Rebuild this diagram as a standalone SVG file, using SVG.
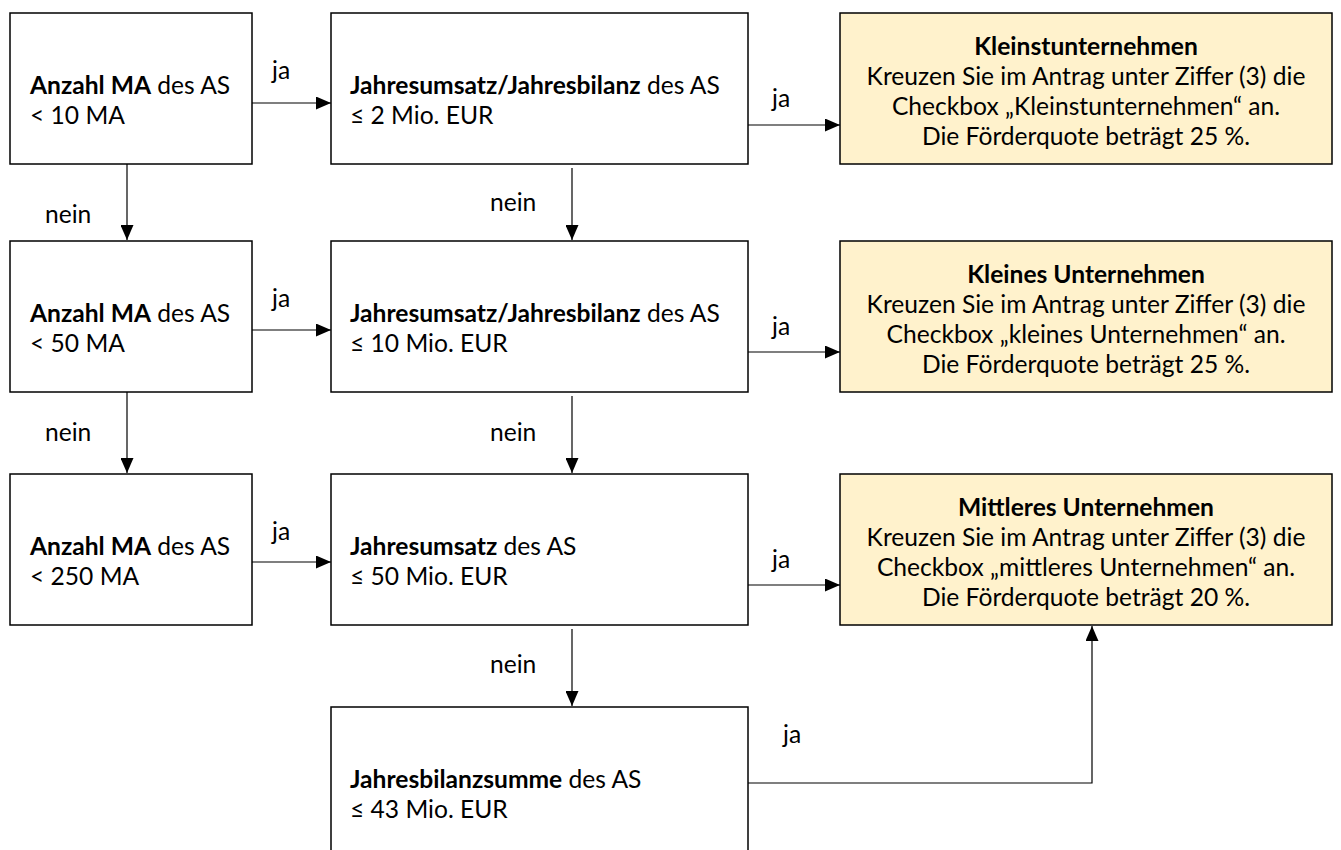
<svg xmlns="http://www.w3.org/2000/svg" width="1341" height="850" viewBox="0 0 1341 850">
<defs>
<marker id="ah" viewBox="0 0 15 13" refX="15" refY="6.5" markerWidth="15" markerHeight="13" markerUnits="userSpaceOnUse" orient="auto">
<path d="M0,0 L15,6.5 L0,13 Z" fill="#000"/>
</marker>
</defs>
<style>
text{font-family:Lato,"Open Sans","Liberation Sans",sans-serif;font-size:24.6px;fill:#000}
.b{font-weight:bold}
.box{fill:#fff;stroke:#000;stroke-width:1.5}
.res{fill:#FFF2CC;stroke:#000;stroke-width:1.5}
.c{text-anchor:middle}
.con line,.con polyline{stroke:#000;stroke-width:1.2;fill:none;marker-end:url(#ah)}
</style>
<rect width="1341" height="850" fill="#fff"/>

<g id="a1"><rect class="box" x="10" y="13" width="242" height="151"/>
<text x="30" y="94"><tspan class="b">Anzahl MA</tspan> des AS</text><text x="30" y="124">&lt; 10 MA</text></g>
<g id="a2"><rect class="box" x="10" y="241" width="242" height="151"/>
<text x="30" y="322"><tspan class="b">Anzahl MA</tspan> des AS</text><text x="30" y="352">&lt; 50 MA</text></g>
<g id="a3"><rect class="box" x="10" y="474" width="242" height="151"/>
<text x="30" y="555"><tspan class="b">Anzahl MA</tspan> des AS</text><text x="30" y="585">&lt; 250 MA</text></g>

<g id="b1"><rect class="box" x="331" y="13" width="417" height="151"/>
<text x="350" y="94"><tspan class="b">Jahresumsatz/Jahresbilanz</tspan> des AS</text><text x="350" y="124">≤ 2 Mio. EUR</text></g>
<g id="b2"><rect class="box" x="331" y="241" width="417" height="151"/>
<text x="350" y="322"><tspan class="b">Jahresumsatz/Jahresbilanz</tspan> des AS</text><text x="350" y="352">≤ 10 Mio. EUR</text></g>
<g id="b3"><rect class="box" x="331" y="474" width="417" height="151"/>
<text x="350" y="555"><tspan class="b">Jahresumsatz</tspan> des AS</text><text x="350" y="585">≤ 50 Mio. EUR</text></g>
<g id="b4"><rect class="box" x="331" y="707" width="417" height="160"/>
<text x="350" y="788"><tspan class="b">Jahresbilanzsumme</tspan> des AS</text><text x="350" y="818">≤ 43 Mio. EUR</text></g>

<g id="c1"><rect class="res" x="840" y="13" width="492" height="151"/>
<text class="c b" x="1086" y="55">Kleinstunternehmen</text>
<text class="c" x="1086" y="85">Kreuzen Sie im Antrag unter Ziffer (3) die</text>
<text class="c" x="1086" y="115">Checkbox „Kleinstunternehmen“ an.</text>
<text class="c" x="1086" y="145">Die Förderquote beträgt 25 %.</text></g>
<g id="c2"><rect class="res" x="840" y="241" width="492" height="151"/>
<text class="c b" x="1086" y="283">Kleines Unternehmen</text>
<text class="c" x="1086" y="313">Kreuzen Sie im Antrag unter Ziffer (3) die</text>
<text class="c" x="1086" y="343">Checkbox „kleines Unternehmen“ an.</text>
<text class="c" x="1086" y="373">Die Förderquote beträgt 25 %.</text></g>
<g id="c3"><rect class="res" x="840" y="474" width="492" height="151"/>
<text class="c b" x="1086" y="516">Mittleres Unternehmen</text>
<text class="c" x="1086" y="546">Kreuzen Sie im Antrag unter Ziffer (3) die</text>
<text class="c" x="1086" y="576">Checkbox „mittleres Unternehmen“ an.</text>
<text class="c" x="1086" y="606">Die Förderquote beträgt 20 %.</text></g>

<g id="connectors" class="con">
<line x1="252" y1="103" x2="331" y2="103"/>
<line x1="748" y1="125" x2="840" y2="125"/>
<line x1="252" y1="330" x2="331" y2="330"/>
<line x1="748" y1="352" x2="840" y2="352"/>
<line x1="252" y1="562" x2="331" y2="562"/>
<line x1="748" y1="585" x2="840" y2="585"/>
<line x1="127" y1="164" x2="127" y2="240"/>
<line x1="127" y1="392" x2="127" y2="473"/>
<line x1="572" y1="168" x2="572" y2="240"/>
<line x1="572" y1="396" x2="572" y2="473"/>
<line x1="572" y1="629" x2="572" y2="706"/>
<polyline points="748,783 1092,783 1092,626"/>
</g>
<g id="labels">
<text x="272" y="79">ja</text>
<text x="272" y="307">ja</text>
<text x="272" y="540">ja</text>
<text x="772" y="107">ja</text>
<text x="772" y="335">ja</text>
<text x="772" y="568">ja</text>
<text x="783" y="743">ja</text>
<text x="45" y="223">nein</text>
<text x="45" y="441">nein</text>
<text x="490" y="211">nein</text>
<text x="490" y="441">nein</text>
<text x="490" y="673">nein</text>
</g>
</svg>
